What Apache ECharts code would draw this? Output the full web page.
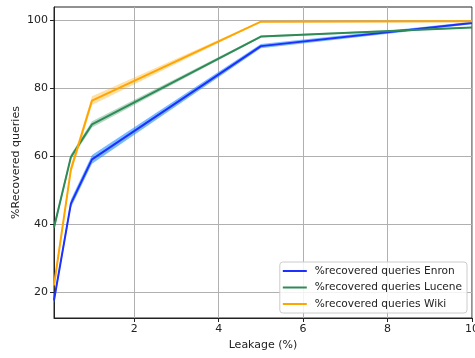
<!DOCTYPE html>
<html><head><meta charset="utf-8">
<script src="https://cdn.jsdelivr.net/npm/echarts@6/dist/echarts.min.js"></script>
<style>html,body{margin:0;padding:0;background:#fff}#c{width:475px;height:358px}</style>
</head><body><div id="c"></div>
<script>
const leakage = [0.1, 0.5, 1, 5, 10];
const enron = [17.6, 46.0, 59.0, 92.3, 99.1];
const enronBand = [1.0, 1.2, 1.3, 0.6, 0.4];
const lucene = [39.0, 59.7, 69.3, 95.1, 97.8];
const luceneBand = [1.0, 0.8, 0.9, 0.3, 0.2];
const wiki = [22.0, 56.0, 76.3, 99.5, 99.6];
const wikiBand = [1.5, 1.2, 1.3, 0.2, 0.2];
const xTicks = [2, 4, 6, 8, 10];
const yTicks = [20, 40, 60, 80, 100];
const names = ['%recovered queries Enron', '%recovered queries Lucene', '%recovered queries Wiki'];
const colors = ['#1f2fff', '#2e8b57', '#ffa500'];
const bandColors = ['rgba(30,144,255,0.6)', 'rgba(46,139,87,0.35)', 'rgba(255,165,0,0.35)'];

function bandSeries(vals, band, col) {
  const data = leakage.map((x, i) => [x, vals[i] - band[i], vals[i] + band[i]]);
  return {
    type: 'custom', silent: true, z: 1, data: data,
    encode: {x: 0, y: [1, 2]},
    renderItem: function (params, api) {
      if (params.dataIndex !== 0) return null;
      const upper = data.map(d => api.coord([d[0], d[2]]));
      const lower = data.map(d => api.coord([d[0], d[1]])).reverse();
      return {type: 'polygon', shape: {points: upper.concat(lower)}, style: {fill: col, stroke: null}};
    }
  };
}
const all = [enron, lucene, wiki];
const bands = [enronBand, luceneBand, wikiBand];
let series = [];
all.forEach((v, k) => { series.push(bandSeries(v, bands[k], bandColors[k])); });
all.forEach((v, k) => {
  series.push({name: names[k], type: 'line', data: leakage.map((x, i) => [x, v[i]]), symbol: 'none',
    lineStyle: {color: colors[k], width: 2}, itemStyle: {color: colors[k]}, z: 3});
});
const font = 'DejaVu Sans';
const chart = echarts.init(document.getElementById('c'));
chart.setOption({
  animation: false,
  grid: {left: 54, right: 3, top: 7, bottom: 40, show: true, borderColor: '#222', borderWidth: 1,
    backgroundColor: 'transparent', outerBoundsMode: 'none', containLabel: false},
  xAxis: {type: 'value', min: 0.1, max: 10, name: 'Leakage (%)', nameLocation: 'middle', nameGap: 22,
    nameMoveOverlap: false,
    nameTextStyle: {fontFamily: font, fontSize: 11, color: '#222'},
    axisLine: {show: true, lineStyle: {color: '#222'}},
    axisTick: {show: true, length: 4, customValues: xTicks, lineStyle: {color: '#222'}},
    axisLabel: {customValues: xTicks, fontFamily: font, fontSize: 11, color: '#222', margin: 6},
    splitLine: {show: true, lineStyle: {color: '#b0b0b0', width: 1}}},
  yAxis: {type: 'value', min: 12.4, max: 103.8, name: '%Recovered queries', nameLocation: 'middle', nameGap: 32,
    nameMoveOverlap: false,
    nameTextStyle: {fontFamily: font, fontSize: 11, color: '#222'},
    axisLine: {show: true, lineStyle: {color: '#222'}},
    axisTick: {show: true, length: 4, customValues: yTicks, lineStyle: {color: '#222'}},
    axisLabel: {customValues: yTicks, fontFamily: font, fontSize: 11, color: '#222', margin: 6},
    splitLine: {show: true, lineStyle: {color: '#b0b0b0', width: 1}}},
  legend: {data: names, orient: 'vertical', right: 8, bottom: 45, icon: 'rect', itemWidth: 24, itemHeight: 2,
    itemGap: 5.5, textStyle: {fontFamily: font, fontSize: 10.6, color: '#222', padding: [0, 0, 0, 3]},
    backgroundColor: 'rgba(255,255,255,0.85)', borderColor: '#ccc', borderWidth: 1, borderRadius: 3,
    padding: [3.5, 5, 3.5, 3]},
  series: series
});
</script></body></html>
